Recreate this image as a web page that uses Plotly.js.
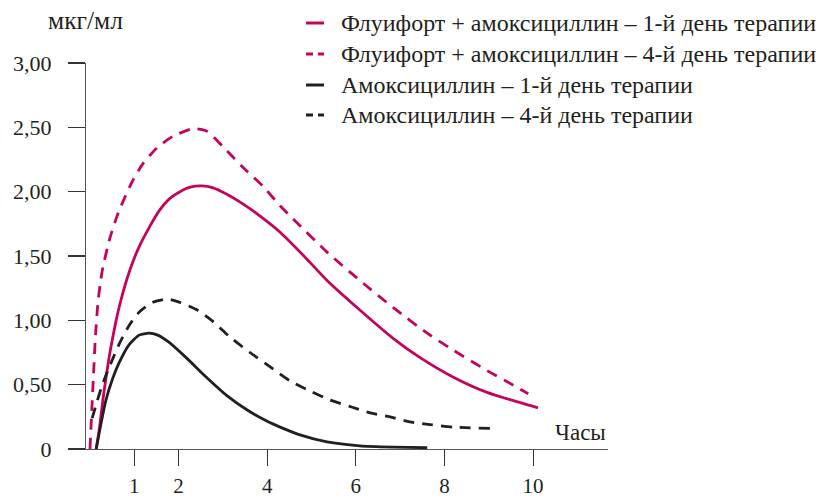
<!DOCTYPE html>
<html>
<head>
<meta charset="utf-8">
<script src="https://cdn.plot.ly/plotly-3.0.1.min.js"></script>
<style>html,body{margin:0;padding:0;background:#fff;}#chart{width:822px;height:498px;}</style>
</head>
<body>
<div id="chart"></div>
<script>
// Hours and concentrations (мкг/мл)
const fluifort1Hours = [0.14,0.22,0.29,0.36,0.43,0.51,0.59,0.70,0.88,1.08,1.35,1.58,1.81,2.03,2.26,2.53,2.78,3.09,3.45,3.84,4.29,4.80,5.35,6.09,6.84,7.45,8.19,8.96,9.71,10.11];
const fluifort1Conc  = [0,0.18,0.38,0.55,0.71,0.86,1.00,1.16,1.37,1.55,1.73,1.86,1.95,2.00,2.035,2.045,2.03,1.98,1.905,1.81,1.685,1.51,1.31,1.08,0.86,0.71,0.56,0.44,0.36,0.32];

const fluifort4Hours = [0,0.04,0.08,0.12,0.18,0.23,0.29,0.45,0.61,0.74,0.97,1.20,1.51,1.87,2.33,2.64,3.00,3.45,3.91,4.29,4.58,5.35,6.09,6.84,7.61,8.19,8.96,9.48,9.89];
const fluifort4Conc  = [0,0.30,0.58,0.86,1.14,1.28,1.41,1.64,1.81,1.92,2.09,2.22,2.34,2.43,2.49,2.47,2.35,2.19,2.04,1.89,1.79,1.53,1.31,1.10,0.90,0.77,0.61,0.51,0.43];

const amox1Hours = [0.14,0.25,0.36,0.52,0.65,0.88,1.11,1.33,1.53,1.78,2.17,2.62,3.09,3.54,4.00,4.29,4.74,5.35,6.09,6.84,7.61];
const amox1Conc  = [0,0.20,0.38,0.555,0.665,0.81,0.885,0.90,0.885,0.83,0.71,0.56,0.415,0.305,0.215,0.17,0.11,0.055,0.025,0.015,0.01];

const amox4Hours = [0.05,0.16,0.29,0.50,0.68,0.90,1.13,1.42,1.74,2.03,2.42,2.78,3.16,3.61,4.06,4.51,4.97,5.42,5.87,6.32,6.77,7.22,7.67,8.19,9.03];
const amox4Conc  = [0.24,0.37,0.51,0.69,0.83,0.97,1.07,1.14,1.165,1.14,1.08,0.99,0.87,0.75,0.64,0.53,0.45,0.38,0.33,0.28,0.25,0.21,0.19,0.17,0.16];

const seriesNames = [
  'Флуифорт + амоксициллин – 1-й день терапии',
  'Флуифорт + амоксициллин – 4-й день терапии',
  'Амоксициллин – 1-й день терапии',
  'Амоксициллин – 4-й день терапии'
];

const xTickVals = [1,2,4,6,8,10];
const xTickText = ['1','2','4','6','8','10'];
const yTickVals = [0,0.5,1,1.5,2,2.5,3];
const yTickText = ['0','0,50','1,00','1,50','2,00','2,50','3,00'];

const MAG = '#C4045C';
const BLK = '#231F20';
const FONT = 'Liberation Serif, DejaVu Serif, serif';

const styles = [
  {color:MAG, dash:'solid'},
  {color:MAG, dash:'11px,8px'},
  {color:BLK, dash:'solid'},
  {color:BLK, dash:'11px,8px'}
];
const seriesX = [fluifort1Hours, fluifort4Hours, amox1Hours, amox4Hours];
const seriesY = [fluifort1Conc, fluifort4Conc, amox1Conc, amox4Conc];

const traces = seriesNames.map((n, i) => ({
  type:'scatter', mode:'lines', hoverinfo:'skip', name:n,
  x: seriesX[i], y: seriesY[i],
  line:{color: styles[i].color, width:2.8, dash: styles[i].dash, shape:'spline', smoothing:0.6}
}));

// plot area geometry (pixels) used to place the hand-made legend
const M = {l:86, r:214, t:63, b:49};
const PW = 822 - M.l - M.r, PH = 498 - M.t - M.b;
const px2x = p => (p - M.l) / PW;
const px2y = p => (498 - M.b - p) / PH;
const legendRows = [23, 54, 85, 115];

const annotations = [
  {text:'мкг/мл', xref:'paper', yref:'paper', x:px2x(85), y:px2y(20), xanchor:'center', yanchor:'middle', showarrow:false, font:{family:FONT, size:25.5, color:BLK}},
  {text:'Часы', xref:'paper', yref:'paper', x:1, y:px2y(432), xanchor:'right', yanchor:'middle', showarrow:false, font:{family:FONT, size:23, color:BLK}}
];
const shapes = [];
seriesNames.forEach((n, i) => {
  annotations.push({text:n, xref:'paper', yref:'paper', x:px2x(339), y:px2y(legendRows[i]), xanchor:'left', yanchor:'middle', showarrow:false, font:{family:FONT, size:24, color:BLK}});
  shapes.push({type:'line', xref:'paper', yref:'paper', x0:px2x(306), x1:px2x(324), y0:px2y(legendRows[i]), y1:px2y(legendRows[i]),
    line:{color: styles[i].color, width:3, dash: styles[i].dash === 'solid' ? 'solid' : '7px,5px'}});
});

const layout = {
  width: 822, height: 498,
  margin: {l:M.l, r:M.r, t:M.t, b:M.b, pad:0, autoexpand:false},
  paper_bgcolor:'#fff', plot_bgcolor:'#fff',
  font: {family: FONT, size: 22, color: BLK},
  showlegend: false,
  xaxis: {
    range: [-0.09, 11.69],
    tickvals: xTickVals, ticktext: xTickText,
    ticks: 'outside', ticklen: 16, tickwidth: 1.2, tickcolor: '#333',
    showline: true, linecolor: '#555', linewidth: 1.2,
    showgrid: false, zeroline: false,
    ticklabelstandoff: 2,
    tickfont: {family: FONT, size: 21, color: BLK},
    fixedrange: true
  },
  yaxis: {
    range: [0, 3],
    tickvals: yTickVals, ticktext: yTickText,
    ticks: 'outside', ticklen: 17, tickwidth: 1.2, tickcolor: '#333',
    showline: true, linecolor: '#555', linewidth: 1.2,
    showgrid: false, zeroline: false,
    ticklabelstandoff: 12,
    tickfont: {family: FONT, size: 22, color: BLK},
    fixedrange: true
  },
  annotations: annotations,
  shapes: shapes
};

Plotly.newPlot('chart', traces, layout, {staticPlot:true, displayModeBar:false});
</script>
</body>
</html>
